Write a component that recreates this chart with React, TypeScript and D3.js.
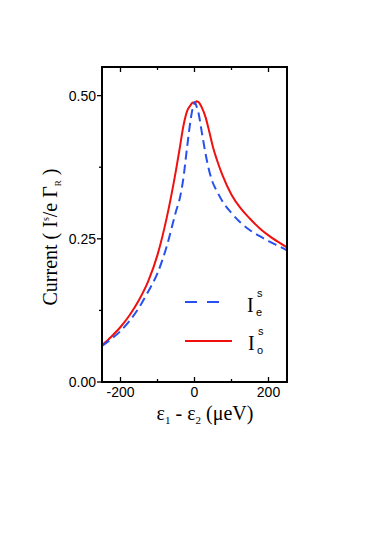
import React from "react";
import * as d3 from "d3";

const xVals = [-250, -225, -200, -175, -150, -125, -100, -75, -50, -40, -30, -20, -10, -5, 0, 5, 10, 20, 30, 40, 50, 60, 75, 100, 125, 150, 175, 200, 225, 250];
const ieVals = [0.063, 0.075, 0.089, 0.107, 0.13, 0.158, 0.19, 0.237, 0.298, 0.32, 0.356, 0.41, 0.46, 0.478, 0.489, 0.482, 0.472, 0.435, 0.398, 0.368, 0.347, 0.334, 0.316, 0.295, 0.278, 0.265, 0.255, 0.246, 0.238, 0.23];
const ioVals = [0.064, 0.079, 0.096, 0.117, 0.143, 0.176, 0.222, 0.287, 0.37, 0.408, 0.447, 0.473, 0.484, 0.488, 0.486, 0.49, 0.489, 0.479, 0.462, 0.437, 0.41, 0.389, 0.362, 0.327, 0.303, 0.285, 0.269, 0.256, 0.245, 0.235];
const xMajor = [-200, 0, 200];
const xMinor = [-100, 100];
const yMajor = [0, 0.25, 0.5];
const yMinor = [0.125, 0.375];

export default function App() {
  const L = 102, R = 287, T = 67, B = 382;
  const x = d3.scaleLinear().domain([-250, 250]).range([L, R]);
  const y = d3.scaleLinear().domain([0, 0.55]).range([B, T]);
  const line = d3
    .line<number>()
    .x((_, i) => x(xVals[i]))
    .y((d) => y(d))
    .curve(d3.curveMonotoneX);
  const sans = "'Liberation Sans', Arial, sans-serif";
  const serif = "'Liberation Serif', 'Times New Roman', serif";
  return (
    <div style={{ position: "absolute", left: 0, top: 0 }}>
      <svg width={388} height={549} style={{ display: "block", background: "#fff" }}>
        <defs>
          <clipPath id="plotclip">
            <rect x={L} y={T} width={R - L} height={B - T} />
          </clipPath>
        </defs>
        <g clipPath="url(#plotclip)">
          <path d={line(ioVals) || ""} fill="none" stroke="#f01010" strokeWidth={2} />
          <path d={line(ieVals) || ""} fill="none" stroke="#2850f0" strokeWidth={2} strokeDasharray="9,5" />
        </g>
        <rect x={L} y={T} width={R - L} height={B - T} fill="none" stroke="#000" strokeWidth={2} />
        {xMajor.map((v) => (
          <g key={"xm" + v}>
            <line x1={x(v)} x2={x(v)} y1={B} y2={B - 5} stroke="#000" strokeWidth={1.3} />
            <line x1={x(v)} x2={x(v)} y1={T} y2={T + 5} stroke="#000" strokeWidth={1.3} />
            <text x={x(v)} y={397} textAnchor="middle" fontFamily={sans} fontSize={14}>
              {String(v)}
            </text>
          </g>
        ))}
        {xMinor.map((v) => (
          <g key={"xn" + v}>
            <line x1={x(v)} x2={x(v)} y1={B} y2={B - 3} stroke="#000" strokeWidth={1.3} />
            <line x1={x(v)} x2={x(v)} y1={T} y2={T + 3} stroke="#000" strokeWidth={1.3} />
          </g>
        ))}
        {yMajor.map((v) => (
          <g key={"ym" + v}>
            <line x1={L - 5} x2={L} y1={y(v)} y2={y(v)} stroke="#000" strokeWidth={1.3} />
            <text x={96} y={y(v) + 5} textAnchor="end" fontFamily={sans} fontSize={14}>
              {v.toFixed(2)}
            </text>
          </g>
        ))}
        {yMinor.map((v) => (
          <line key={"yn" + v} x1={L - 3} x2={L} y1={y(v)} y2={y(v)} stroke="#000" strokeWidth={1.3} />
        ))}
        <line x1={185} x2={221} y1={302} y2={302} stroke="#2850f0" strokeWidth={2} strokeDasharray="12,10" />
        <line x1={185} x2={232} y1={341} y2={341} stroke="#f01010" strokeWidth={2} />
        <text x={247} y={312} fontFamily={serif} fontSize={20}>I</text>
        <text x={257} y={297} fontFamily={sans} fontSize={11}>s</text>
        <text x={256} y={316} fontFamily={sans} fontSize={11}>e</text>
        <text x={248} y={350} fontFamily={serif} fontSize={20}>I</text>
        <text x={258} y={335} fontFamily={sans} fontSize={11}>s</text>
        <text x={257} y={354} fontFamily={sans} fontSize={11}>o</text>
        <text x={205} y={420} textAnchor="middle" fontFamily={serif} fontSize={20}>
          <tspan>ε</tspan>
          <tspan fontSize={11} dy={4}>1</tspan>
          <tspan dy={-4}> - ε</tspan>
          <tspan fontSize={11} dy={4}>2</tspan>
          <tspan dy={-4}> (μeV)</tspan>
        </text>
        <text transform="translate(57,237) rotate(-90)" textAnchor="middle" fontFamily={serif} fontSize={20}>
          <tspan>Current ( I</tspan>
          <tspan fontSize={10} dy={-8}>s</tspan>
          <tspan dy={8}>/e Γ</tspan>
          <tspan fontSize={9} dy={4}>R</tspan>
          <tspan dy={-4}> )</tspan>
        </text>
      </svg>
    </div>
  );
}
